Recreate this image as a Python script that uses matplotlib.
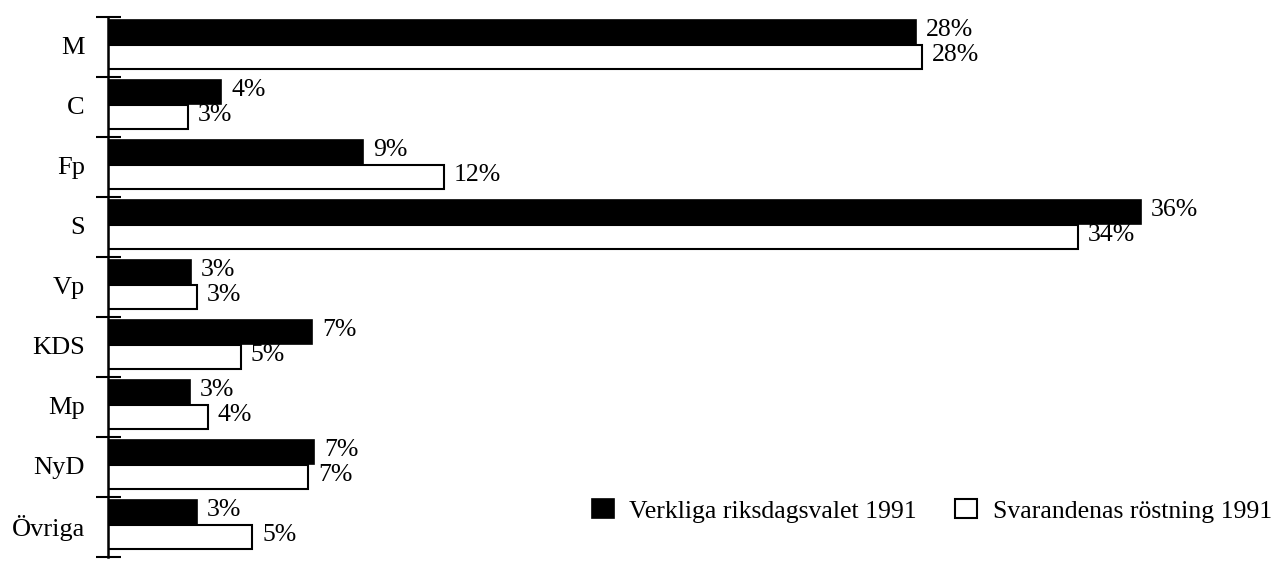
import matplotlib.pyplot as plt
import matplotlib.transforms as mtransforms
import numpy as np

parties = ['M', 'C', 'Fp', 'S', 'Vp', 'KDS', 'Mp', 'NyD', 'Övriga']
verkliga = [28.15, 3.94, 8.9, 36.0, 2.89, 7.1, 2.86, 7.18, 3.1]
svarande = [28.36, 2.79, 11.7, 33.8, 3.1, 4.63, 3.48, 6.97, 5.02]
label_verk = ['28%', '4%', '9%', '36%', '3%', '7%', '3%', '7%', '3%']
label_svar = ['28%', '3%', '12%', '34%', '3%', '5%', '4%', '7%', '5%']

plt.rcParams['font.family'] = ['Liberation Serif', 'DejaVu Serif']

fig = plt.figure(figsize=(12.81, 5.67), dpi=100)
ax = fig.add_axes([108/1281, 1-557/567, 1-108/1281, 540/567])

pos = np.arange(len(parties))
b1 = ax.barh(pos + 0.25, verkliga, height=0.4, color='black', edgecolor='black',
             linewidth=1.2, label='Verkliga riksdagsvalet 1991')
b2 = ax.barh(pos + 0.67, svarande, height=0.4, color='white', edgecolor='black',
             linewidth=1.5, label='Svarandenas röstning 1991')

for i in range(len(parties)):
    ax.text(verkliga[i] + 0.35, pos[i] + 0.22, label_verk[i], va='center', ha='left', fontsize=18.5)
    ax.text(svarande[i] + 0.35, pos[i] + 0.64, label_svar[i], va='center', ha='left', fontsize=18.5)

trans = mtransforms.blended_transform_factory(fig.transFigure, ax.transData)
for i, p in enumerate(parties):
    ax.text(85/1281, pos[i] + 0.52, p, transform=trans, ha='right', va='center', fontsize=19)

ax.set_xlim(0, 1173/28.7)
ax.set_ylim(len(parties), 0)
ax.set_yticks(np.arange(len(parties) + 1))
ax.set_yticklabels([])
ax.set_xticks([])
ax.tick_params(axis='y', direction='inout', length=18, width=1.5)
for s in ['top', 'right', 'bottom']:
    ax.spines[s].set_visible(False)
ax.spines['left'].set_linewidth(1.8)

fig.legend(handles=[b1, b2], loc='center left', bbox_to_anchor=(592/1281, 1-511/567),
           ncol=2, frameon=False, fontsize=18.5, borderpad=0, borderaxespad=0,
           handlelength=0.85, handleheight=0.75, handletextpad=0.6, columnspacing=1.5)

fig.savefig('out.png', dpi=100)
